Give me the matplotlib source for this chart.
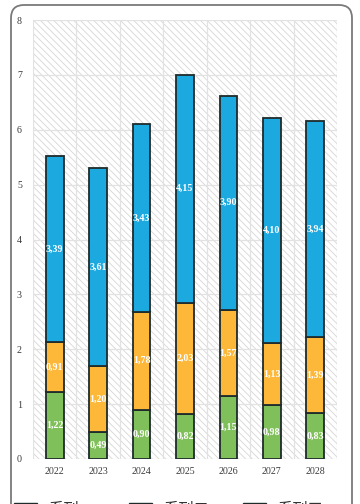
import matplotlib
matplotlib.use('Agg')
import matplotlib.pyplot as plt
import numpy as np
from matplotlib.patches import Rectangle, FancyBboxPatch, Patch

plt.rcParams['font.family'] = ['Liberation Serif', 'Noto Sans CJK SC', 'DejaVu Sans']
plt.rcParams['hatch.color'] = '#d6d6d6'
plt.rcParams['hatch.linewidth'] = 0.6

# 数据
years = ['2022', '2023', '2024', '2025', '2026', '2027', '2028']
green_vals = [1.22, 0.49, 0.90, 0.82, 1.15, 0.98, 0.83]
orange_vals = [0.91, 1.20, 1.78, 2.03, 1.57, 1.13, 1.39]
blue_vals = [3.39, 3.61, 3.43, 4.15, 3.90, 4.10, 3.94]
series_names = ['系列一', '系列二', '系列三']

colors = ['#80c05a', '#fdb83a', '#1ba9df']
edge = '#1e2b2b'

fig = plt.figure(figsize=(3.6, 5.04), dpi=100)

# 外框（圆角）
frame = FancyBboxPatch((11 / 360, -0.2), (352 - 11) / 360, 1.2 - 5 / 504,
                       boxstyle='round,pad=0,rounding_size=0.036',
                       transform=fig.transFigure, facecolor='none',
                       edgecolor='#7a7a7a', linewidth=1.3, zorder=-1,
                       mutation_aspect=360 / 504)
fig.patches.append(frame)

ax = fig.add_axes([33 / 360, 45 / 504, 304 / 360, 439 / 504])
ax.set_facecolor('none')

# 背景斜线
bg = Rectangle((0, 0), 1, 1, transform=ax.transAxes, facecolor='white',
               edgecolor='#d6d6d6', linewidth=0, hatch='\\\\\\\\\\', zorder=0)
ax.add_patch(bg)

x = np.arange(len(years))
width = 0.41
g = np.array(green_vals)
o = np.array(orange_vals)
b = np.array(blue_vals)

bars_g = ax.bar(x, g, width, color=colors[0], edgecolor=edge, linewidth=1.3, zorder=3)
bars_o = ax.bar(x, o, width, bottom=g, color=colors[1], edgecolor=edge, linewidth=1.3, zorder=3)
bars_b = ax.bar(x, b, width, bottom=g + o, color=colors[2], edgecolor=edge, linewidth=1.3, zorder=3)

def add_labels(vals, bottoms):
    for xi, v, bt in zip(x, vals, bottoms):
        ax.text(xi, bt + v / 2, f'{v:.2f}'.replace('.', ','), ha='center', va='center',
                color='white', fontsize=7.2, fontweight='bold', zorder=5)

add_labels(g, np.zeros_like(g))
add_labels(o, g)
add_labels(b, g + o)

ax.set_xlim(-0.5, 6.5)
ax.set_ylim(0, 8)
ax.set_yticks(range(0, 9))
ax.set_xticks(x)
ax.set_xticklabels(years)
ax.set_xticks(np.arange(-0.5, 7, 1), minor=True)
ax.tick_params(axis='both', which='both', length=0, labelsize=7.2, colors='#3a3a3a', pad=6)
ax.tick_params(axis='y', pad=8)

ax.grid(True, axis='y', which='major', color='#e2e2e2', linewidth=0.9, zorder=1)
ax.grid(True, axis='x', which='minor', color='#e2e2e2', linewidth=0.9, zorder=1)
ax.grid(False, axis='x', which='major')
ax.set_axisbelow(True)
for s in ax.spines.values():
    s.set_visible(False)

# 底部图例（被裁切）
handles = [Patch(facecolor=c, edgecolor=edge) for c in colors]
fig.legend(handles, series_names, loc='upper left', bbox_to_anchor=(8 / 360, 8 / 504),
           borderaxespad=0, ncol=3, frameon=False, fontsize=11, handlelength=1.5,
           columnspacing=2.2, labelcolor='#333333')

fig.savefig('out.png', dpi=100)
